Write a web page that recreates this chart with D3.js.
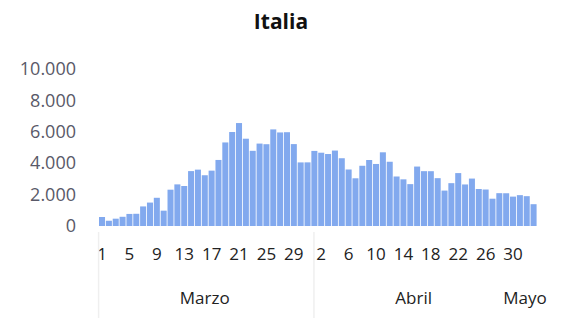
<!DOCTYPE html>
<html>
<head>
<meta charset="utf-8">
<script src="https://cdn.jsdelivr.net/npm/d3@7"></script>
<style>
html,body{margin:0;padding:0;background:#fff;}
svg{display:block;}
</style>
</head>
<body>
<svg id="chart" width="562" height="320"></svg>
<script>
const title = "Italia";
const months = ["Marzo", "Abril", "Mayo"];
const monthDays = [31, 30, 3];
const cases = [
  573, 335, 466, 587, 769, 778, 1247, 1492, 1797, 977,
  2313, 2651, 2547, 3497, 3590, 3233, 3526, 4207, 5322, 5986,
  6557, 5560, 4789, 5249, 5210, 6153, 5959, 5974, 5217, 4050, 4053,
  4782, 4668, 4585, 4805, 4316, 3599, 3039, 3836, 4204, 3951,
  4694, 4092, 3153, 2972, 2667, 3786, 3493, 3491, 3047, 2256,
  2729, 3370, 2646, 3021, 2357, 2324, 1739, 2091, 2086, 1872,
  1965, 1900, 1389
];
const yTicks = [0, 2000, 4000, 6000, 8000, 10000];
const yTickLabels = ["0", "2.000", "4.000", "6.000", "8.000", "10.000"];

(function () {
const cats = [];
months.forEach((m, mi) => {
  for (let d = 1; d <= monthDays[mi]; d++) cats.push({month: m, mi, day: d, key: m + "-" + d});
});
const data = cats.map((c, i) => ({...c, idx: i, value: cases[i]}));

const svg = d3.select("#chart");
const pLeft = 98.6, pRight = 537, pTop = 69, pBottom = 226;

const x = d3.scaleBand().domain(data.map(d => d.key)).range([pLeft, pRight]).paddingInner(0.12).paddingOuter(0.06);
const y = d3.scaleLinear().domain([0, 10000]).range([pBottom, pTop]);

const font = "'Open Sans', sans-serif";
const textColor = "#595968";

svg.append("text").attr("x", 281).attr("y", 29).attr("text-anchor", "middle")
  .attr("font-family", font).attr("font-weight", "bold").attr("font-size", 21).attr("fill", "#111")
  .text(title);

const yAxis = d3.axisLeft(y).tickValues(yTicks).tickFormat((d, i) => yTickLabels[i]).tickSize(0).tickPadding(0);
const yg = svg.append("g").attr("transform", `translate(76,0)`).call(yAxis);
yg.select(".domain").remove();
yg.selectAll("text").attr("font-family", font).attr("font-size", 18).attr("fill", textColor);

svg.append("g").selectAll("rect").data(data).join("rect")
  .attr("x", d => x(d.key))
  .attr("y", d => y(d.value))
  .attr("width", x.bandwidth())
  .attr("height", d => y(0) - y(d.value))
  .attr("fill", "#82a9ee");

const dayKeys = data.filter(d => d.idx % 4 === 0).map(d => d.key);
const xAxis = d3.axisBottom(x).tickValues(dayKeys).tickFormat(k => k.split("-")[1]).tickSize(0).tickPadding(0);
const xg = svg.append("g").attr("transform", `translate(0,${pBottom + 22})`).call(xAxis);
xg.select(".domain").remove();
xg.selectAll("text").attr("font-family", font).attr("font-size", 17).attr("fill", "#222");

const step = x.step();
const bounds = [];
let idx = 0;
months.forEach((m, mi) => {
  const start = idx, end = idx + monthDays[mi];
  bounds.push({m, x0: pLeft + start * step, x1: pLeft + end * step});
  idx = end;
});
const sepXs = [pLeft, bounds[0].x1 + 3];
svg.append("g").selectAll("line").data(sepXs).join("line")
  .attr("x1", d => d).attr("x2", d => d)
  .attr("y1", pBottom + 6).attr("y2", 318)
  .attr("stroke", "#efefef").attr("stroke-width", 1.5);

svg.append("g").selectAll("text").data(bounds).join("text")
  .attr("x", (d, i) => i === 2 ? 525 : (d.x0 + d.x1) / 2)
  .attr("y", 304)
  .attr("text-anchor", "middle")
  .attr("font-family", font).attr("font-size", 17).attr("fill", "#222")
  .text(d => d.m);
})();
</script>
</body>
</html>
